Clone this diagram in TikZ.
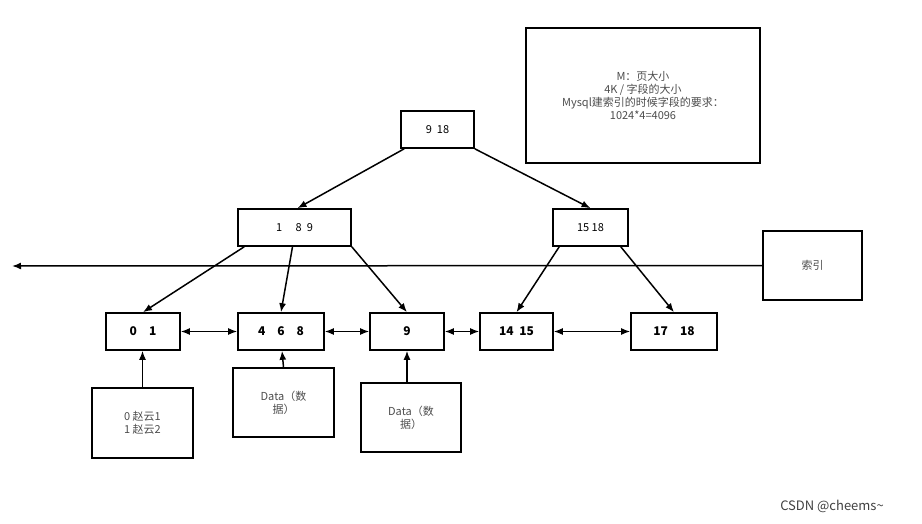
\documentclass[tikz,border=0pt]{standalone}
\usepackage{fontspec}
\usetikzlibrary{arrows.meta}
\setmainfont{Noto Sans CJK SC}
\begin{document}
\begin{tikzpicture}[x=1pt,y=-1pt,
 bx/.style={draw,line width=1.6pt,inner sep=0pt},
 ar/.style={-{Latex[length=9pt,width=7pt]},line width=1.5pt},
 dar/.style={{Latex[length=9pt,width=7pt]}-{Latex[length=9pt,width=7pt]},line width=1.5pt},
 lf/.style={bx,font=\fontsize{12}{14}\selectfont\bfseries},
 tx/.style={font=\fontsize{11}{13}\selectfont,text=black!70,align=center}]
\useasboundingbox (0,0) rectangle (922,524);
\node[bx,minimum width=73,minimum height=37,font=\fontsize{11}{13}\selectfont] (top) at (437.5,129.5) {9\ \ 18};
\node[bx,minimum width=234,minimum height=135,tx] (note) at (643,95.5) {M：页大小\\4K / 字段的大小\\Mysql建索引的时候字段的要求：\\1024*4=4096};
\node[bx,minimum width=113,minimum height=37,font=\fontsize{11}{13}\selectfont] (l1a) at (294.5,227.5) {1\quad\ 8\ \ 9};
\node[bx,minimum width=75,minimum height=37,font=\fontsize{11}{13}\selectfont] (l1b) at (590.5,227.5) {15 18};
\node[bx,minimum width=99,minimum height=69,tx] (idx) at (812.5,265.5) {索引};
\coordinate (lend) at (12,266);
\draw[ar] (idx.west) -- (lend);
\node[lf,minimum width=74,minimum height=37] (a) at (143,331.5) {0\quad 1};
\node[lf,minimum width=86,minimum height=37] (b) at (281,331.5) {4\quad 6\quad 8};
\node[lf,minimum width=74,minimum height=37] (c) at (407,331.5) {9};
\node[lf,minimum width=73,minimum height=37] (d) at (516.5,331.5) {14\ \ 15};
\node[lf,minimum width=86,minimum height=37] (e) at (674,331.5) {17\quad 18};
\node[bx,minimum width=101,minimum height=70,tx] (da) at (142.5,423) {0 赵云1\\1 赵云2};
\node[bx,minimum width=101,minimum height=69,tx] (db) at (283.5,402.5) {Data（数\\据）};
\node[bx,minimum width=100,minimum height=69,tx] (dc) at (411,417.5) {Data（数\\据）};
\draw[ar] ([xshift=4]top.south west) -- ([xshift=3]l1a.north);
\draw[ar] (top.south east) -- (l1b.north);
\draw[ar] ([xshift=7]l1a.south west) -- (a.north);
\draw[ar] ([xshift=-2]l1a.south) -- (b.north);
\draw[ar] (l1a.south east) -- (c.north);
\draw[ar] ([xshift=7]l1b.south west) -- (d.north);
\draw[ar] ([xshift=-8]l1b.south east) -- (e.north);
\draw[dar] (a) -- (b);
\draw[dar] (b) -- (c);
\draw[dar] (c) -- (d);
\draw[dar] (d) -- (e);
\draw[ar] (da.north) -- ([xshift=-0.5]a.south);
\draw[ar] (db.north) -- ([xshift=1]b.south);
\draw[ar] ([xshift=-4]dc.north) -- (c.south);
\node[font=\fontsize{13}{15}\selectfont,text=black!75] (csdn) at (832,506) {CSDN @cheems\textasciitilde};
\end{tikzpicture}
\end{document}
